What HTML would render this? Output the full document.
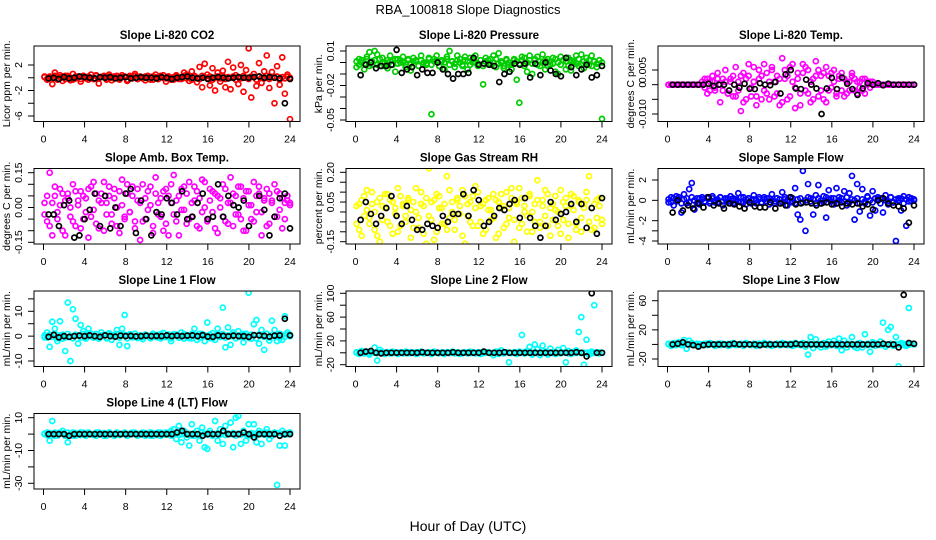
<!DOCTYPE html>
<html><head><meta charset="utf-8"><style>
html,body{margin:0;padding:0;background:#fff;}
svg{display:block;font-family:"Liberation Sans",sans-serif;}
</style></head><body>
<svg id="chart" width="936" height="540" viewBox="0 0 936 540">
<rect width="936" height="540" fill="#fff"/>
<text x="468" y="14" text-anchor="middle" font-size="13">RBA_100818  Slope Diagnostics</text>
<text x="468" y="531" text-anchor="middle" font-size="14">Hour of Day (UTC)</text>
</svg>
<script>
// ---- data ----
const xTicks = [0,4,8,12,16,20,24];
const co2Color = [0.2,-0.3,0.1,-1.0,0.8,-0.2,0.4,-0.5,0.3,0.1,-0.4,0.6,-0.1,0.2,-0.6,0.3,0.0,-0.3,0.5,-0.2,0.4,-0.9,0.1,0.3,-0.2,0.5,-0.4,0.2,0.0,-0.3,0.4,0.1,-0.5,0.3,-0.1,0.6,-0.2,0.2,0.0,-0.4,0.3,0.1,-0.3,0.5,-0.2,0.1,0.4,-0.6,0.2,0.0,-0.3,0.4,0.1,-0.2,0.8,0.5,-0.5,1.0,0.3,-0.7,1.7,-1.5,2.2,0.5,-1.2,1.5,-2.0,0.8,-0.6,1.1,-1.5,2.5,-1.8,1.6,0.4,-1.0,2.0,-2.2,1.2,4.6,-3.1,0.6,-1.3,2.3,-0.8,1.0,3.5,-1.6,0.9,-4.0,1.8,-1.1,3.2,-2.5,0.5,-6.5];
const co2Band = [0.1,-0.2,0.2,-0.1,0.3,-0.3,0.1,0.2,-0.2,0.3,0.0,-0.3,0.2,0.1,-0.2,0.3,-0.1,0.2,0.0,-0.2,0.3,-0.1,0.1,0.2,-0.3,0.2,0.0,-0.1,0.3,-0.2,0.1,0.2,-0.3,0.1,0.0,0.3,-0.2,0.1,-0.1,0.2,0.0,-0.3,0.2,0.1,-0.2,0.3,0.0,-0.1,0.2,-0.3,0.1,0.2,-0.2,0.0,0.3,-0.1,0.1,-0.3,0.2,0.0,-0.2,0.3,0.1,-0.1,0.2,-0.3,0.0,0.2,-0.1,0.3,-0.2,0.1,0.0,0.2,-0.3,0.1,-0.1,0.3,0.0,-0.2,0.2,0.1,-0.3,0.2,0.0,-0.1,0.3,-0.2,0.1,0.0,0.2,-0.3,0.1,-0.1,0.2,0.0];
const co2Black = [-0.1,0,-0.2,0.1,-0.1,0,0.2,0.1,0,-0.1,0.1,0,0.1,-0.1,0,0.1,-0.1,0,0.1,0,0,-0.1,0.1,0,-0.2,0,0.1,0.2,0,-0.1,0,-0.2,0,0.1,0,-0.1,0,0.1,0,0,0.1,0.2,0,0.1,0,-0.1,-4.0,-0.2];
const presColor = [-0.004,0.003,0.000,-0.006,0.005,0.009,-0.002,0.010,0.007,-0.003,0.004,0.000,-0.005,0.006,0.002,-0.008,0.003,0.000,0.005,-0.004,0.002,-0.007,0.004,0.001,-0.003,0.006,0.000,-0.002,0.004,-0.045,0.003,0.006,-0.003,0.002,-0.006,0.005,0.010,0.001,-0.004,0.006,0.003,-0.002,0.005,-0.006,0.004,0.000,0.006,-0.003,0.002,-0.019,0.004,-0.001,0.003,0.006,-0.004,0.008,0.000,-0.005,0.003,-0.002,-0.006,0.002,-0.015,-0.035,0.005,0.004,-0.008,0.006,-0.010,0.002,0.005,-0.003,0.007,-0.006,0.003,-0.002,0.004,-0.008,-0.010,0.005,0.002,-0.006,0.004,-0.007,0.001,0.006,-0.003,0.007,-0.005,0.004,-0.002,0.006,0.001,-0.004,0.002,-0.049];
const presBand = [0.001,-0.002,0.002,-0.001,0.003,-0.003,0.001,0.002,-0.002,0.003,0.000,-0.003,0.002,0.001,-0.002,0.003,-0.001,0.002,0.000,-0.002,0.003,-0.001,0.001,0.002,-0.003,0.002,0.000,-0.001,0.003,-0.002,0.001,0.002,-0.003,0.001,0.000,0.003,-0.002,0.001,-0.001,0.002,0.000,-0.003,0.002,0.001,-0.002,0.003,0.000,-0.001,0.002,-0.003,0.001,0.002,-0.002,0.000,0.003,-0.001,0.001,-0.003,0.002,0.000,-0.002,0.003,0.001,-0.001,0.002,-0.003,0.000,0.002,-0.001,0.003,-0.002,0.001,0.000,0.002,-0.003,0.001,-0.001,0.003,0.000,-0.002,0.002,0.001,-0.003,0.002,0.000,-0.001,0.003,-0.002,0.001,0.000,0.002,-0.003,0.001,-0.001,0.002,0.000];
const presBlack = [-0.011,-0.002,0.000,-0.005,-0.003,-0.003,-0.002,0.011,-0.009,-0.006,-0.004,-0.011,-0.006,-0.009,-0.009,0.000,-0.006,-0.010,-0.014,-0.010,-0.010,-0.009,0.004,-0.002,-0.001,-0.002,-0.003,-0.017,-0.010,-0.008,-0.001,-0.002,-0.001,-0.013,-0.001,-0.011,0.000,-0.007,-0.010,-0.012,0.004,-0.004,-0.011,-0.006,-0.002,-0.013,-0.011,-0.003];
const tempColor = [0,0,0,0,0,0,0,0,0,0,0,0,0,0.001,-0.001,0.002,-0.002,0.001,-0.001,0.002,0.0,-0.002,0.001,-0.003,0.002,0.003,-0.004,0.001,-0.009,0.004,-0.005,0.003,-0.001,0.006,-0.004,0.002,-0.005,0.007,-0.003,0.001,0.005,-0.004,0.003,-0.007,0.009,0.002,-0.005,0.006,0.001,-0.008,0.004,-0.003,0.007,-0.002,0.005,-0.006,0.002,0.008,-0.004,0.003,-0.005,0.006,-0.002,0.004,0.001,-0.004,0.003,-0.002,0.002,-0.003,0.001,0.004,-0.002,0.001,-0.001,0.002,-0.003,0.001,-0.001,0.001,0,0,0,0,0,0,0,0,0,0,0,0,0,0,0,0];
const tempColor2 = [0,0,0,0,0,0,0,0,0,0,0,0,0,0,0.002,-0.003,0.001,0.003,-0.002,0.004,-0.006,0.002,0.005,-0.003,0.001,-0.004,0.006,-0.002,0.003,-0.006,0.002,0.007,-0.004,0.001,-0.007,0.005,0.003,-0.002,0.004,-0.005,0.006,0.001,-0.003,0.002,-0.006,0.005,0.003,-0.004,0.007,-0.001,0.002,-0.007,0.004,0.006,-0.003,0.001,-0.005,0.003,0.005,-0.002,0.004,-0.006,0.003,-0.001,0.005,-0.003,0.002,0.004,-0.004,0.001,-0.002,0.003,0.002,-0.003,0.001,-0.002,0.002,0,0.001,0,0,0,0,0,0,0,0,0,0,0,0,0,0,0,0,0];
const tempBlack = [0,0,0,0,0,0,0,0.0003,-0.0004,0,0,-0.002,0,-0.001,0.0003,-0.0014,-0.0015,0.0005,0,-0.0002,0.0009,-0.003,0.0035,0.005,-0.0013,-0.0015,0.0017,0,-0.0013,-0.010,-0.0013,0.0023,-0.0015,0.0024,0.0003,-0.0015,-0.0035,-0.0013,0.0005,0,0.0005,-0.0002,0.0003,0,0,0,0,0];
const ambColor = [0.02,-0.06,0.15,-0.12,0.05,-0.02,0.08,-0.10,0.03,0.06,-0.04,0.10,-0.08,0.01,0.07,-0.05,0.04,-0.13,0.09,-0.01,0.06,-0.09,0.02,0.11,-0.03,0.05,-0.07,0.08,0.00,-0.11,0.12,-0.04,0.06,-0.02,0.09,-0.06,0.03,-0.14,0.10,-0.05,0.07,0.01,-0.08,0.13,-0.03,0.04,-0.10,0.08,-0.12,0.02,0.14,-0.06,0.05,-0.01,0.09,-0.07,0.11,-0.04,0.03,0.07,-0.09,0.12,0.00,-0.05,0.08,-0.02,0.06,-0.11,0.04,0.10,-0.06,0.02,0.13,-0.08,0.05,-0.03,0.09,-0.10,0.07,0.01,-0.05,0.11,-0.02,0.06,-0.12,0.04,0.08,-0.07,0.03,0.10,-0.04,0.06,-0.09,0.02,0.05,0.01];
const ambColor2 = [-0.03,0.05,-0.08,0.02,0.09,-0.05,0.01,0.06,-0.12,0.04,0.00,-0.06,0.07,0.03,-0.09,0.05,-0.02,0.08,-0.04,0.11,-0.07,0.03,0.06,-0.10,0.02,0.09,-0.03,0.04,-0.08,0.07,0.01,-0.05,0.10,-0.02,0.05,-0.09,0.08,0.02,-0.06,0.04,-0.01,0.09,-0.11,0.06,0.02,-0.04,0.07,-0.07,0.05,0.10,-0.03,0.03,-0.12,0.08,-0.01,0.06,-0.05,0.02,0.09,-0.08,0.04,-0.02,0.11,-0.06,0.03,0.07,-0.09,0.05,0.00,-0.04,0.08,-0.07,0.02,0.06,-0.03,0.09,-0.05,0.04,-0.10,0.07,0.01,-0.06,0.05,0.09,-0.02,0.03,-0.08,0.06,0.02,-0.04,0.07,-0.01,0.04,-0.05,0.03,0.02];
const ambBlack = [-0.03,-0.03,-0.08,0.01,0.03,-0.13,-0.12,-0.05,-0.01,0.06,-0.08,0.05,-0.09,0.00,-0.08,0.06,0.08,-0.11,0.03,-0.05,-0.12,-0.02,-0.03,0.04,0.02,-0.03,0.07,-0.05,-0.04,0.02,0.06,-0.05,-0.04,0.10,-0.04,0.05,0.01,0.00,0.03,-0.08,-0.19,0.05,-0.01,-0.12,-0.04,0.04,0.06,-0.09];
const rhColor = [-0.06,0.04,-0.12,0.08,0.01,-0.03,0.10,-0.09,0.05,-0.15,0.03,0.09,-0.05,0.06,-0.11,0.02,0.12,-0.07,0.04,-0.02,0.07,-0.13,0.05,0.00,-0.08,0.10,0.03,-0.16,0.22,-0.04,0.06,-0.10,0.08,0.02,-0.06,0.18,-0.03,0.05,-0.09,0.07,-0.01,0.11,-0.16,0.04,-0.05,0.08,0.13,-0.07,0.03,-0.11,0.06,0.01,-0.04,0.09,-0.13,0.05,0.02,-0.08,0.10,-0.03,0.07,-0.15,0.04,0.12,-0.06,0.03,-0.10,0.08,0.00,-0.05,0.16,-0.08,0.06,-0.02,0.09,-0.12,0.04,0.01,-0.07,0.11,-0.04,0.07,-0.13,0.03,0.08,-0.06,0.05,-0.10,0.02,0.06,0.18,-0.09,0.04,-0.03,0.07,-0.06];
const rhColor2 = [0.03,-0.09,0.06,-0.02,0.11,-0.06,0.04,0.00,-0.12,0.07,-0.04,0.02,0.09,-0.07,0.05,-0.01,-0.10,0.08,0.03,-0.05,0.06,0.01,-0.08,0.12,-0.03,0.04,-0.11,0.07,-0.02,0.05,-0.14,0.09,0.02,-0.06,0.04,-0.09,0.11,0.00,-0.04,0.06,0.03,-0.12,0.08,-0.02,0.05,-0.07,0.02,0.10,-0.05,0.04,-0.09,0.07,0.01,-0.03,0.06,-0.11,0.09,0.03,-0.06,0.02,0.12,-0.04,0.05,-0.08,0.07,0.00,-0.02,0.09,-0.10,0.04,0.06,-0.05,0.03,0.11,-0.07,0.02,-0.04,0.08,0.00,-0.11,0.05,0.03,-0.06,0.09,0.01,-0.09,0.06,-0.03,0.04,0.10,-0.05,0.02,-0.08,0.06,0.03,-0.04];
const rhBlack = [-0.04,0.05,-0.01,-0.06,-0.02,0.02,0.08,-0.02,-0.06,0.03,-0.04,-0.09,-0.09,-0.06,-0.07,-0.08,-0.02,-0.05,-0.01,-0.01,0.09,-0.02,0.11,0.06,-0.07,-0.05,-0.02,0.02,0.01,0.04,0.06,-0.03,0.07,-0.03,-0.07,-0.13,-0.07,0.05,-0.04,-0.01,0.00,0.04,-0.05,0.04,-0.08,0.02,-0.11,0.07];
const sampColor = [-0.2,0.3,-0.5,0.4,0.1,-1.2,0.6,-0.3,1.1,1.7,-0.9,0.2,-0.4,0.3,-0.1,0.2,-0.3,0.4,-0.2,0.1,0.3,-0.5,0.2,-0.1,0.4,-0.3,0.1,0.7,-0.2,0.3,-0.4,0.2,0.0,0.5,-0.3,0.1,-0.2,0.3,0.2,-0.4,0.6,-0.1,0.2,-0.3,0.8,0.1,-0.5,0.3,-0.2,1.2,-1.4,-1.9,2.9,-3.0,1.6,0.2,-1.4,0.5,1.5,-0.3,0.4,-1.7,1.0,0.2,-0.4,1.2,0.3,-0.2,0.9,-0.5,0.7,2.4,-1.9,1.6,-1.1,1.1,-0.3,0.4,-1.5,0.9,-1.0,0.3,0.2,-1.2,0.5,-0.4,0.3,-0.2,-4.0,0.2,-1.0,0.4,-2.5,0.3,-0.1,0.1];
const sampBand = [0.1,-0.2,0.2,-0.1,0.3,-0.3,0.1,0.2,-0.2,0.3,0.0,-0.3,0.2,0.1,-0.2,0.3,-0.1,0.2,0.0,-0.2,0.3,-0.1,0.1,0.2,-0.3,0.2,0.0,-0.1,0.3,-0.2,0.1,0.2,-0.3,0.1,0.0,0.3,-0.2,0.1,-0.1,0.2,0.0,-0.3,0.2,0.1,-0.2,0.3,0.0,-0.1,0.2,-0.3,0.1,0.2,-0.2,0.0,0.3,-0.1,0.1,-0.3,0.2,0.0,-0.2,0.3,0.1,-0.1,0.2,-0.3,0.0,0.2,-0.1,0.3,-0.2,0.1,0.0,0.2,-0.3,0.1,-0.1,0.3,0.0,-0.2,0.2,0.1,-0.3,0.2,0.0,-0.1,0.3,-0.2,0.1,0.0,0.2,-0.3,0.1,-0.1,0.2,0.0];
const sampBlack = [-1.2,0.0,-1.0,-0.5,-0.8,-0.3,-0.7,0.3,-0.5,-0.3,-0.8,-0.3,-0.4,-0.6,-0.8,-0.2,-0.6,-0.7,-0.7,-0.2,-0.8,-0.3,-0.5,0.3,-0.4,-0.3,-0.2,-0.3,-0.5,-0.3,-0.2,-0.4,-0.3,-0.6,-0.3,-0.4,-0.3,-0.6,-0.4,-0.9,0.0,0.2,-0.3,-0.5,-0.6,-0.8,-2.2,-0.5];
const l1Color = [-0.5,1.5,-4.3,5.8,3.0,-2.0,6.0,-1.0,-6.0,13.5,-10.0,10.8,7.0,-3.0,4.5,2.0,-1.0,3.0,1.0,-0.5,0.8,-1.0,1.5,0.3,-0.6,1.2,-1.5,0.5,2.5,-3.5,3.0,8.5,-4.0,0.8,-0.5,1.0,-0.8,0.3,-1.2,0.6,0.2,-0.7,1.0,-0.3,0.5,-0.9,1.3,-0.4,0.6,-2.0,0.8,0.2,-0.6,1.5,-1.0,0.4,-0.8,0.9,3.0,-1.5,1.0,0.3,-2.0,5.5,-0.8,1.2,-1.5,3.0,0.5,11.5,-4.5,3.5,-3.5,1.5,-0.8,2.0,0.5,-2.5,1.0,17.5,-1.0,4.8,6.5,-3.0,2.5,-5.5,1.0,-1.8,6.2,2.5,-2.0,1.0,-1.5,8.0,1.5,0.5];
const l1Band = [0.3,-0.6,0.6,-0.3,0.9,-0.9,0.3,0.6,-0.6,0.9,0,-0.9,0.6,0.3,-0.6,0.9,-0.3,0.6,0,-0.6,0.9,-0.3,0.3,0.6,-0.9,0.6,0,-0.3,0.9,-0.6,0.3,0.6,-0.9,0.3,0,0.9,-0.6,0.3,-0.3,0.6,0,-0.9,0.6,0.3,-0.6,0.9,0,-0.3,0.6,-0.9,0.3,0.6,-0.6,0,0.9,-0.3,0.3,-0.9,0.6,0,-0.6,0.9,0.3,-0.3,0.6,-0.9,0,0.6,-0.3,0.9,-0.6,0.3,0,0.6,-0.9,0.3,-0.3,0.9,0,-0.6,0.6,0.3,-0.9,0.6,0,-0.3,0.9,-0.6,0.3,0,0.6,-0.9,0.3,-0.3,0.6,0];
const l1Black = [-0.3,0.5,-0.5,0,-0.3,0,0.2,0,0.3,0,-0.3,0.3,0,-0.2,0.2,0,0.1,-0.1,0,0.2,0,0.1,0,0.3,0,0.2,0,0.2,0.3,0,0.4,-0.2,-0.3,0.3,0.1,-0.1,0.2,0,0,-0.3,0.4,0.3,0.1,-0.2,0.2,0.3,7.0,0.3];
const l2Color = [1,-2,3,-1,2,-3,1,9,-13,5,2,-2,1,-1,2,0,-2,1,-1,2,-1,1,0,-2,1,2,-1,0,1,-2,2,0,-1,1,-2,1,0,2,-1,1,-2,0,1,-1,2,0,-1,1,-2,2,0,1,-1,-4,2,-2,4,-1,1,-16,0,1,-2,2,30,-1,3,10,-3,14,6,-4,12,2,-3,7,1,-2,5,-1,8,-16,3,-2,1,4,35,60,-20,22,-3,2,80,1,-1,0];
const l2Black = [0,2,3,0,-1,0,0,0,0,0,0,0,1,0,0,0,0,0,1,0,0,0,0,0,2,0,0,0,1,0,0,0,0,0,0,0,0,0,0,0,0,0,1,0,-6,100,0,0];
const l3Color = [1,-2,2,-1,3,-1,6,-6,5,2,-1,1,-2,0,1,-1,2,0,-2,1,-1,1,0,-2,1,2,-1,0,1,-2,2,0,-1,1,-2,1,0,2,-1,1,-2,0,1,-1,2,0,-1,1,-2,2,0,-1,2,-3,-14,10,-5,7,-1,-4,2,-3,4,-1,5,-2,8,-8,5,-4,1,10,-3,-5,2,-4,14,-1,-10,3,-2,1,4,30,-3,20,24,-2,10,-30,2,1,-2,50,1,0];
const l3Black = [0,1,3,0,-1,-3,-1,0,0,0,0,0,1,0,0,0,0,-1,0,0,0,0,0,0,1,0,0,0,0,0,0,0,0,0,0,0,0,0,0,0,0,1,0,0,-4,68,2,1];
const l4Color = [0,1,-4,8,-1,0,1,2,-1,-5,0,1,-1,0,1,0,-1,1,0,0,-1,1,0,-1,0,1,0,-1,1,0,0,1,-1,0,1,0,-1,0,1,-1,0,1,-1,0,1,-1,0,1,0,2,3,-3,5,-5,2,-2,-7,6,-1,2,-4,4,-8,-9,2,-1,8,-4,3,-6,5,0,7,-8,10,11,-6,2,-4,6,-1,6,-5,2,-6,1,3,-3,-1,1,-31,-7,2,-7,0,1];
const l4Black = [0,0,0,0,-1,0,0,0,0,0,0,0,0,0,0,0,0,0,0,0,0,0,0,0,0,1,2,0,0,0,-1,0,0,0,2,0,0,0,1,0,-2,0,0,0,0,-1,0,0];

// ---- panels ----
const panels = [
 {name:'co2',title:'Slope Li-820 CO2',ylab:'Licor ppm per min.',col:0,row:0,color:'#ff0000',ref:[2,65,-6,116],ticks:[-6,-4,-2,0,2],labels:[[-6,'-6'],[-2,'-2'],[2,'2']],series:[co2Band,co2Color],black:co2Black},
 {name:'pressure',title:'Slope Li-820 Pressure',ylab:'kPa per min.',col:1,row:0,color:'#00cd00',ref:[0.01,51,-0.05,120],ticks:[0.01,0,-0.01,-0.02,-0.03,-0.04,-0.05],labels:[[0.01,'0.01'],[-0.02,'-0.02'],[-0.05,'-0.05']],series:[presBand,presColor],black:presBlack},
 {name:'li820-temp',title:'Slope Li-820 Temp.',ylab:'degrees C per min.',col:2,row:0,color:'#ff00ff',ref:[0.005,70,-0.010,114],ticks:[0.005,0,-0.005,-0.010],labels:[[0.005,'0.005'],[0,'0'],[-0.010,'-0.010']],series:[tempColor,tempColor2],black:tempBlack},
 {name:'amb-box-temp',title:'Slope Amb. Box Temp.',ylab:'degrees C per min.',col:0,row:1,color:'#ff00ff',ref:[0.15,172.7,-0.15,242.3],ticks:[-0.15,-0.1,-0.05,0,0.05,0.1,0.15],labels:[[-0.15,'-0.15'],[0,'0.00'],[0.15,'0.15']],series:[ambColor,ambColor2],black:ambBlack},
 {name:'gas-stream-rh',title:'Slope Gas Stream RH',ylab:'percent per min.',col:1,row:1,color:'#ffff00',ref:[0.20,172.3,-0.15,241.7],ticks:[-0.15,-0.1,-0.05,0,0.05,0.1,0.15,0.2],labels:[[-0.15,'-0.15'],[0.05,'0.05'],[0.20,'0.20']],series:[rhColor,rhColor2],black:rhBlack},
 {name:'sample-flow',title:'Slope Sample Flow',ylab:'mL/min per min.',col:2,row:1,color:'#0000ff',ref:[2,180,-4,241],ticks:[-4,-3,-2,0,2],labels:[[-4,'-4'],[-2,'-2'],[0,'0'],[2,'2']],series:[sampBand,sampColor],black:sampBlack},
 {name:'line1-flow',title:'Slope Line 1 Flow',ylab:'mL/min per min.',col:0,row:2,color:'#00ffff',ref:[10,311.3,-10,361],ticks:[-10,-5,0,5,10,15],labels:[[-10,'-10'],[0,'0'],[10,'10']],series:[l1Band,l1Color],black:l1Black},
 {name:'line2-flow',title:'Slope Line 2 Flow',ylab:'mL/min per min.',col:1,row:2,color:'#00ffff',ref:[100,293.3,-20,364.7],ticks:[-20,0,20,40,60,80,100],labels:[[-20,'-20'],[20,'20'],[60,'60'],[100,'100']],series:[l1Band,l2Color],black:l2Black},
 {name:'line3-flow',title:'Slope Line 3 Flow',ylab:'mL/min per min.',col:2,row:2,color:'#00ffff',ref:[60,300.7,-20,359],ticks:[-20,0,20,40,60],labels:[[-20,'-20'],[20,'20'],[60,'60']],series:[l1Band,l3Color],black:l3Black},
 {name:'line4-flow',title:'Slope Line 4 (LT) Flow',ylab:'mL/min per min.',col:0,row:3,color:'#00ffff',ref:[10,417.7,-30,483.3],ticks:[-30,-20,-10,0,10],labels:[[-30,'-30'],[-10,'-10'],[10,'10']],series:[l1Band,l4Color],black:l4Black}
];
const colLeft=[34,346,658], rowTop=[46,168.5,291,413.5], W=266, H=75.5;
const NS='http://www.w3.org/2000/svg';
const svg=document.getElementById('chart');
function mk(tag,attrs,parent){const e=document.createElementNS(NS,tag);for(const k in attrs)e.setAttribute(k,attrs[k]);(parent||svg).appendChild(e);return e;}

panels.forEach(p=>{
  const L=colLeft[p.col], T=rowTop[p.row];
  const g=mk('g',{});
  
  
  const xS=h=>L+9.5+h*(246.5/24);
  const [v1,p1,v2,p2]=p.ref;
  const yS=v=>p1+(v-v1)*(p2-p1)/(v2-v1);
  const clip='clip-'+p.name;
  const cp=mk('clipPath',{id:clip},g); mk('rect',{x:L,y:T,width:W,height:H},cp);
  const pts=mk('g',{'clip-path':'url(#'+clip+')',fill:'none','stroke-width':1.7},g);
  
  
  p.series.forEach(arr=>{
    arr.forEach((v,i)=>{
      const c=mk('circle',{cx:xS(0.1+i*23.9/(arr.length-1)),cy:yS(v),r:2.5,stroke:p.color},pts);
      
      
    });
  });
  p.black.forEach((v,i)=>{
    const c=mk('circle',{cx:xS((i+1)*0.5),cy:yS(v),r:2.5,stroke:'#000'},pts);
    
    
  });
  const box=mk('rect',{x:L,y:T,width:W,height:H,fill:'none',stroke:'#000','stroke-width':1},g);
  
  
  const t=mk('text',{x:L+W/2,y:T-7,'text-anchor':'middle','font-size':11.5,'font-weight':'bold'},g);
  t.textContent=p.title;
  
  
  const B=T+H;
  xTicks.forEach(h=>{
    mk('line',{x1:xS(h),x2:xS(h),y1:B,y2:B+6,stroke:'#000'},g);
    const tx=mk('text',{x:xS(h),y:B+21,'text-anchor':'middle','font-size':10.5},g);
    tx.textContent=h;
    
    
  });
  p.ticks.forEach(v=>{
    const y=yS(v); if(y<T-0.5||y>B+0.5) return;
    mk('line',{x1:L-6,x2:L,y1:y,y2:y,stroke:'#000'},g);
  });
  p.labels.forEach(([v,s])=>{
    const y=yS(v);
    const tx=mk('text',{x:L-12,y:y,'text-anchor':'middle','font-size':10.5,transform:'rotate(-90 '+(L-12)+' '+y+')'},g);
    tx.textContent=s;
    
    
  });
  const yc=T+H/2, xl=L-24;
  const yl=mk('text',{x:xl,y:yc,'text-anchor':'middle','font-size':10.5,transform:'rotate(-90 '+xl+' '+yc+')'},g);
  yl.textContent=p.ylab;
  
  
});
</script>
</body></html>
